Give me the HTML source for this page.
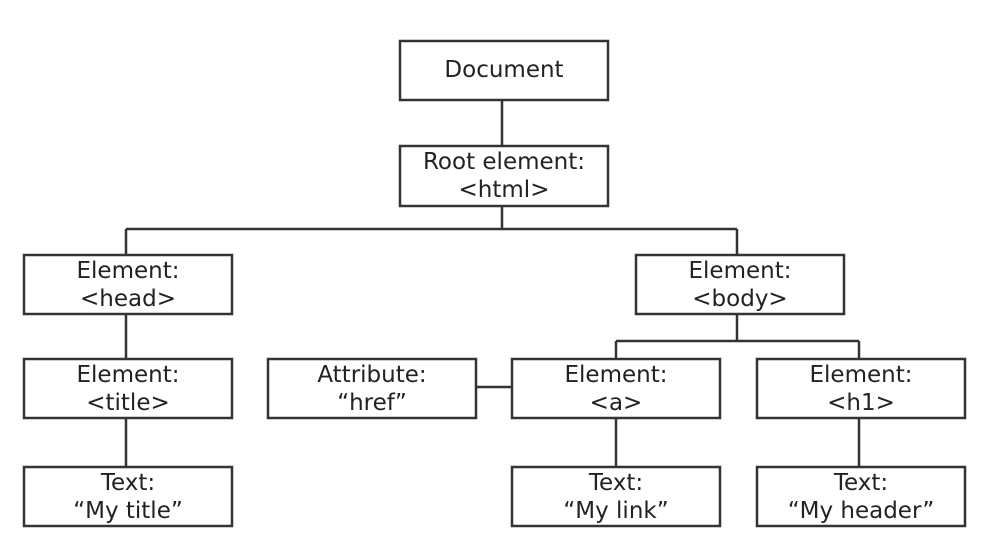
<!DOCTYPE html>
<html><head><meta charset="utf-8"><style>
html,body{margin:0;padding:0;background:#fff;width:1004px;height:540px;overflow:hidden}
text{font-family:"DejaVu Sans","Liberation Sans",sans-serif;font-size:23px;fill:#222;text-anchor:middle}
</style></head><body>
<svg width="1004" height="540" xmlns="http://www.w3.org/2000/svg">
<g stroke="#333" stroke-width="2.5" fill="none">
<rect x="400" y="41" width="208" height="59"/>
<rect x="400" y="146" width="208" height="60"/>
<rect x="24" y="255" width="208" height="59"/>
<rect x="636" y="255" width="208" height="59"/>
<rect x="24" y="359" width="208" height="59"/>
<rect x="268" y="359" width="208" height="59"/>
<rect x="512" y="359" width="208" height="59"/>
<rect x="757" y="359" width="208" height="59"/>
<rect x="24" y="467" width="208" height="59"/>
<rect x="512" y="467" width="208" height="59"/>
<rect x="757" y="467" width="208" height="59"/>
<path d="M502 100V146M502 206V229M126 229H737M126 229V255M737 229V255M126 314V359M126 418V467M737 314V341M616 341H859M616 341V359M859 341V359M476 387H512M616 418V467M859 418V467"/>
</g>
<text x="504" y="77">Document</text>
<text x="504" y="169">Root element:</text><text x="504" y="197">&lt;html&gt;</text>
<text x="128" y="278">Element:</text><text x="128" y="306">&lt;head&gt;</text>
<text x="740" y="278">Element:</text><text x="740" y="306">&lt;body&gt;</text>
<text x="128" y="382">Element:</text><text x="128" y="410">&lt;title&gt;</text>
<text x="372" y="382">Attribute:</text><text x="372" y="410">“href”</text>
<text x="616" y="382">Element:</text><text x="616" y="410">&lt;a&gt;</text>
<text x="861" y="382">Element:</text><text x="861" y="410">&lt;h1&gt;</text>
<text x="128" y="490">Text:</text><text x="128" y="518">“My title”</text>
<text x="616" y="490">Text:</text><text x="616" y="518">“My link”</text>
<text x="861" y="490">Text:</text><text x="861" y="518">“My header”</text>
</svg>
</body></html>
